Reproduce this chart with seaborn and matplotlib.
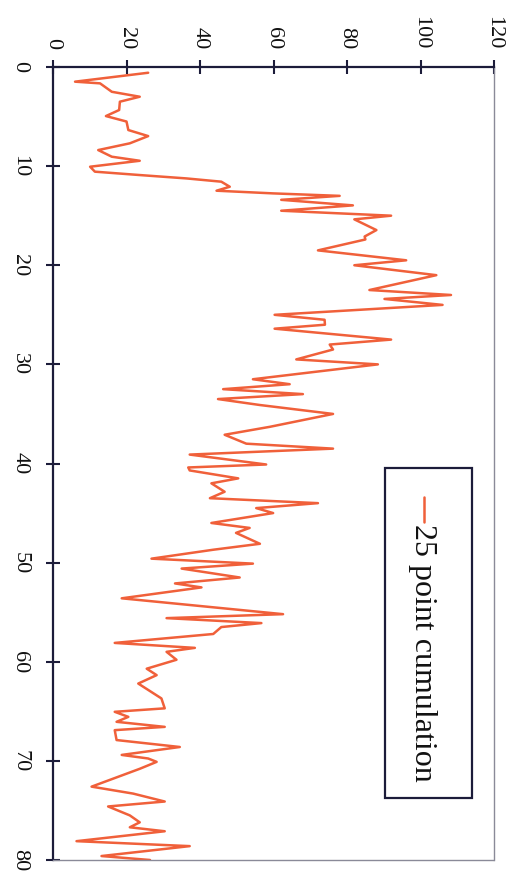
import matplotlib
matplotlib.use("Agg")
import matplotlib.pyplot as plt
from matplotlib.patches import Rectangle
from matplotlib.lines import Line2D
import seaborn as sns
import pandas as pd

# Data: position along the record (0-80) and the 25 point cumulation value (0-120)
position = [0.58, 1.48, 1.65, 2.5, 3.0, 3.5, 4.34, 4.95, 5.5, 6.36, 6.97, 7.7, 8.38, 9.05, 9.46,
            10.06, 10.56, 10.9, 11.24, 11.57, 12.08, 12.48, 12.75, 13.0, 13.4, 13.96, 14.5, 15.0,
            15.37, 16.45, 17.1, 17.4, 18.5, 19.5, 20.0, 21.0, 22.5, 23.0, 23.4, 24.0, 25.0, 25.5,
            26.0, 26.4, 27.5, 28.0, 28.5, 29.5, 30.0, 31.5, 32.0, 32.5, 33.0, 33.5, 34.1, 35.0,
            36.3, 37.1, 38.0, 38.5, 39.1, 40.1, 40.4, 40.7, 41.5, 42.0, 42.85, 43.5, 44.0, 44.5,
            45.0, 46.0, 46.5, 47.0, 48.1, 48.7, 49.6, 50.1, 50.6, 51.5, 52.1, 52.5, 53.6, 55.2,
            55.6, 56.1, 56.5, 57.2, 58.1, 58.6, 59.0, 59.8, 60.7, 61.35, 62.2, 63.7, 64.7, 65.05,
            65.56, 66.06, 66.57, 66.9, 67.9, 68.6, 69.4, 69.76, 70.1, 70.8, 72.6, 73.3, 74.1,
            74.6, 75.5, 76.2, 76.7, 77.1, 78.1, 78.6, 79.6, 80.0]
cumulation = [25.9, 6.0, 12.8, 16.0, 23.6, 18.2, 18.0, 14.4, 20.0, 20.5, 25.9, 20.9, 12.3, 16.0, 23.6,
              10.1, 11.4, 23.6, 36.3, 45.8, 48.1, 44.5, 59.9, 78.0, 62.1, 81.6, 62.1, 92.0,
              82.0, 88.0, 84.8, 85.0, 72.1, 96.1, 82.0, 104.3, 86.1, 108.3, 90.2, 106.0, 60.3, 73.9,
              74.0, 60.3, 92.0, 75.3, 76.2, 66.2, 88.4, 54.4, 64.4, 46.3, 68.0, 44.9, 56.3, 76.2,
              59.0, 46.7, 52.6, 76.2, 37.2, 58.0, 36.8, 37.2, 50.4, 43.1, 46.7, 42.7, 72.1, 55.3,
              59.9, 43.1, 53.5, 49.8, 56.3, 43.6, 26.8, 54.4, 35.0, 50.8, 33.2, 40.4, 18.7, 62.6,
              30.9, 56.7, 45.8, 43.6, 16.8, 38.6, 30.9, 33.6, 25.5, 28.2, 23.2, 29.5, 30.4, 16.8,
              20.5, 17.3, 30.4, 16.8, 17.3, 34.5, 18.7, 25.9, 28.2, 23.6, 10.5, 21.8, 30.4,
              15.0, 20.9, 23.6, 20.9, 30.4, 6.4, 37.2, 13.2, 26.4]
series_label = "25 point cumulation"
value_ticks = [0, 20, 40, 60, 80, 100, 120]
position_ticks = [0, 10, 20, 30, 40, 50, 60, 70, 80]

df = pd.DataFrame({"position": position, "cumulation": cumulation})

sns.set_style("white")
plt.rcParams["font.family"] = ["Liberation Serif", "DejaVu Serif"]

W, H = 512, 874
fig = plt.figure(figsize=(W / 100, H / 100), dpi=100)
ax = fig.add_axes([53 / W, 1 - 860 / H, (494 - 53) / W, (860 - 67) / H])

line_color = "#f0603a"
sns.lineplot(data=df, x="cumulation", y="position", orient="y", sort=False,
             estimator=None, color=line_color, linewidth=1.8, ax=ax)

ax.set_xlim(0, 120)
ax.set_ylim(80, 0)
ax.xaxis.tick_top()
ax.set_xticks(value_ticks)
ax.set_yticks(position_ticks)
ax.set_xlabel("")
ax.set_ylabel("")

dark = "#1c1c3a"
for s in ["left", "top"]:
    ax.spines[s].set_color(dark)
    ax.spines[s].set_linewidth(1.6)
for s in ["right", "bottom"]:
    ax.spines[s].set_color("#8a8a98")
    ax.spines[s].set_linewidth(1.0)
    ax.spines[s].set_linestyle((0, (1, 1)))

ax.tick_params(axis="x", which="major", direction="inout", length=10, width=1.5,
               colors=dark, labelcolor="#111111", labelsize=16, pad=8, top=True, bottom=False)
ax.tick_params(axis="y", which="major", direction="inout", length=10, width=1.5,
               colors=dark, labelcolor="#111111", labelsize=16, pad=12, left=True)
for lab in ax.get_xticklabels():
    lab.set_rotation(-90)
    lab.set_va("bottom")
    lab.set_ha("center")
for lab in ax.get_yticklabels():
    lab.set_rotation(-90)
    lab.set_va("center")
    lab.set_ha("right")

# Legend box drawn rotated like the rest of the page
x0, x1 = (385 - 53) / 441, (472 - 53) / 441
y_top, y_bot = 1 - (468 - 67) / 793, 1 - (798 - 67) / 793
ax.add_patch(Rectangle((x0, y_bot), x1 - x0, y_top - y_bot, transform=ax.transAxes,
                       facecolor="white", edgecolor=dark, linewidth=1.6, zorder=5))
lx = (424 - 53) / 441
ax.add_line(Line2D([lx, lx], [1 - (497 - 67) / 793, 1 - (522 - 67) / 793],
                   transform=ax.transAxes, color=line_color, linewidth=1.8, zorder=6))
ax.text((423 - 53) / 441, 1 - (524 - 67) / 793, series_label, transform=ax.transAxes,
        rotation=-90, ha="center", va="top", fontsize=23, color="#111111", zorder=6)

fig.savefig("out.png", dpi=100, facecolor="white")
